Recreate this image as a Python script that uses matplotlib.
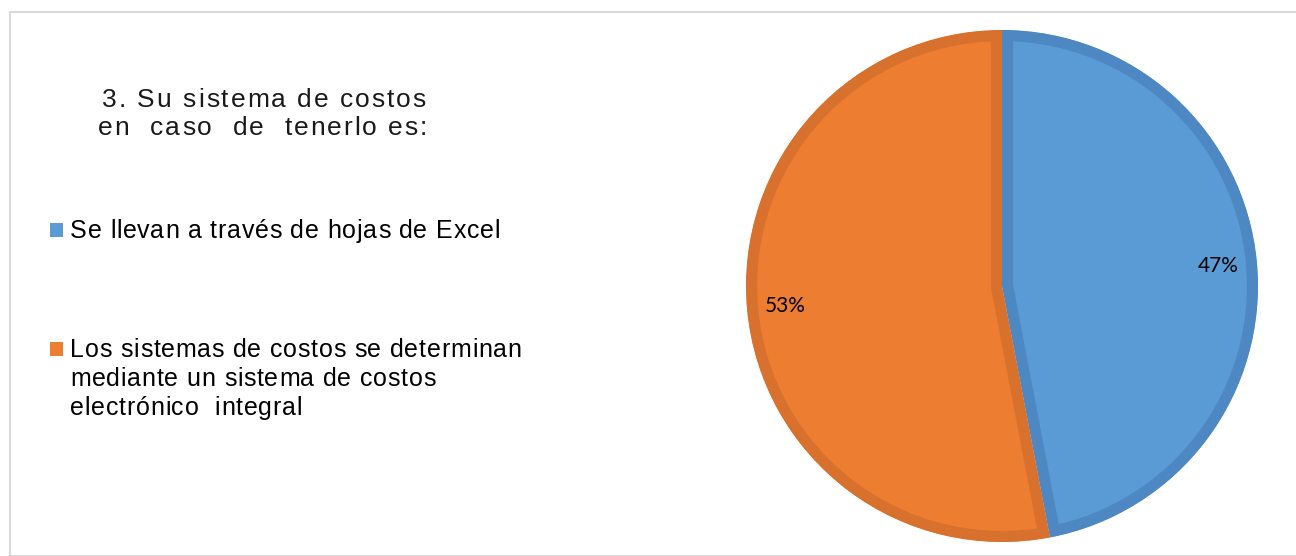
import matplotlib
matplotlib.use("Agg")
import matplotlib.pyplot as plt
from matplotlib.patches import Rectangle

# Datos
categorias = ["Se llevan a través de hojas de Excel",
              "Los sistemas de costos se determinan\nmediante un sistema de costos\nelectrónico  integral"]
valores = [47, 53]
colores = ["#5B9BD5", "#ED7D31"]
bordes = ["#4E88C2", "#D7712D"]
titulo = ["3. Su sistema de costos", "en  caso  de  tenerlo es:"]

W, H = 1296, 556
fig = plt.figure(figsize=(W / 100, H / 100), dpi=100)
fig.patch.set_facecolor("white")
renderer = fig.canvas.get_renderer()


def ancho(txt, size, family):
    t = fig.text(0, 0, txt + "|", fontsize=size, family=family)
    w = t.get_window_extent(renderer).width
    t.remove()
    return w


def texto_espaciado(s, x0, y_base, size, family="Liberation Sans", tracking=0.0, width=None, color="black"):
    # texto con espaciado entre letras (como en el original)
    base = ancho("", size, family)
    adv = [ancho(s[:i], size, family) - base for i in range(len(s) + 1)]
    if width is not None:
        tracking = (width - adv[-1]) / (len(s) - 1)
    for i, ch in enumerate(s):
        if ch == " ":
            continue
        fig.text((x0 + adv[i] + i * tracking) / W, 1 - y_base / H, ch, fontsize=size,
                 family=family, va="baseline", ha="left", color=color)
    return tracking


# marco gris claro
fig.patches.append(Rectangle((10 / W, 0), 1.2, (H - 12) / H, transform=fig.transFigure,
                             fill=False, edgecolor="#D9D9D9", linewidth=1.5))

# Gráfico circular
cx, cy, r = 1002, H - 286, 256
ax = fig.add_axes([(cx - r) / W, (cy - r) / H, 2 * r / W, 2 * r / H])
wedges, textos, autotextos = ax.pie(valores, colors=colores, startangle=90, counterclock=False,
                                    autopct="%1.0f%%", pctdistance=0.85, radius=1,
                                    textprops={"fontsize": 15, "family": "Lato", "color": "black"})
for w, b in zip(wedges, bordes):
    w.set_edgecolor(b)
    w.set_linewidth(16)
    w.set_clip_on(True)
    w.set_clip_path(w)
ax.set_xlim(-1, 1)
ax.set_ylim(-1, 1)
ax.set_aspect("equal")
ax.axis("off")

# Título
texto_espaciado(titulo[0], 102, 107, 19, width=324, color="#1a1a1a")
texto_espaciado(titulo[1], 98, 135, 19, width=329, color="#1a1a1a")

# Leyenda manual
lineas = [categorias[0].split("\n"), categorias[1].split("\n")]
bases = [[238], [357, 386, 415]]
trk = None
for ls, col, ys in zip(lineas, colores, bases):
    fig.patches.append(Rectangle((50 / W, 1 - (ys[0] - 1) / H), 13 / W, 14 / H,
                                 transform=fig.transFigure, facecolor=col, edgecolor="none"))
    for s, y in zip(ls, ys):
        if trk is None:
            trk = texto_espaciado(s, 70, y, 18, width=430)
        else:
            texto_espaciado(s, 70, y, 18, tracking=trk)

plt.savefig("out.png", dpi=100)
